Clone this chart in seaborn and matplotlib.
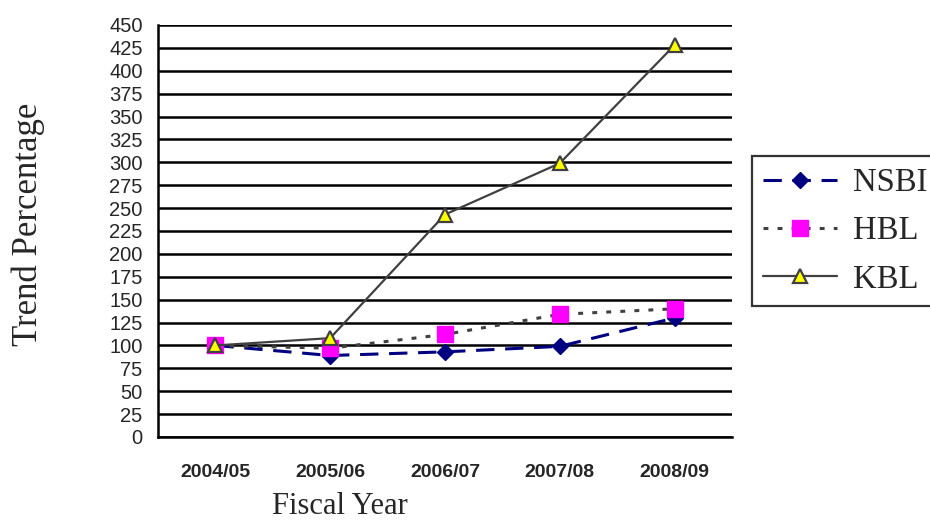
import matplotlib
matplotlib.use("Agg")
import matplotlib.pyplot as plt
import seaborn as sns
import pandas as pd
from matplotlib.ticker import FixedLocator, NullFormatter

years = ["2004/05", "2005/06", "2006/07", "2007/08", "2008/09"]
nsbi = [100, 89, 93, 99, 130]
hbl = [100, 97, 112, 134, 140]
kbl = [100, 108, 243, 299, 428]
series_names = ["NSBI", "HBL", "KBL"]

rows = []
for name, vals in zip(series_names, [nsbi, hbl, kbl]):
    for i, (y, v) in enumerate(zip(years, vals)):
        rows.append({"Year": y, "x": i, "Value": v, "Bank": name})
df = pd.DataFrame(rows)

sns.set_style("white")
fig = plt.figure(figsize=(9.3, 5.22), dpi=100)
ax = fig.add_axes([158/930, 85/522, (732-158)/930, (437-25)/522])

styles = {
    "NSBI": dict(color="#000080", linestyle=(0, (6, 3.5)), marker="D", markersize=8,
                 markerfacecolor="#000080", markeredgecolor="#000080", lw=2.2),
    "HBL": dict(color="#404040", linestyle=(0, (1.6, 3)), marker="s", markersize=11,
                markerfacecolor="#FF00FF", markeredgecolor="#FF00FF", lw=2.2),
    "KBL": dict(color="#404040", linestyle="-", marker="^", markersize=10,
                markerfacecolor="#FFFF00", markeredgecolor="#404040", markeredgewidth=1.6, lw=1.6),
}
for name in series_names:
    sub = df[df["Bank"] == name]
    st = styles[name]
    sns.lineplot(data=sub, x="x", y="Value", ax=ax, label=name, sort=False,
                 color=st["color"], linestyle=st["linestyle"], lw=st["lw"],
                 marker=st["marker"], markersize=st["markersize"],
                 markerfacecolor=st["markerfacecolor"], markeredgecolor=st["markeredgecolor"],
                 markeredgewidth=st.get("markeredgewidth", 1), zorder=3)

ax.set_xlim(-0.5, 4.5)
ax.set_ylim(0, 450)
ax.set_yticks(range(0, 451, 25))
ax.yaxis.grid(True, color="black", lw=1.8)
ax.set_axisbelow(True)
ax.xaxis.set_major_locator(FixedLocator([i - 0.5 for i in range(6)]))
ax.xaxis.set_major_formatter(NullFormatter())
ax.xaxis.set_minor_locator(FixedLocator(list(range(5))))
ax.set_xticklabels(years, minor=True)
ax.tick_params(axis="x", which="major", direction="out", length=6, width=1.5, color="black")
ax.tick_params(axis="x", which="minor", length=0, pad=19.5)
ax.tick_params(axis="y", direction="out", length=5, width=1.5, color="black", pad=6)
for lab in ax.get_xticklabels(minor=True):
    lab.set_fontfamily("Liberation Sans")
    lab.set_fontweight("bold")
    lab.set_fontsize(14)
for lab in ax.get_yticklabels():
    lab.set_fontfamily("Liberation Sans")
    lab.set_fontsize(14.5)
for s in ["top", "right"]:
    ax.spines[s].set_visible(False)
for s in ["left", "bottom"]:
    ax.spines[s].set_color("black")
    ax.spines[s].set_linewidth(1.8)
ax.set_xlabel("")
ax.set_ylabel("")

fig.text(28/930, 1 - 224/522, "Trend Percentage", rotation=90, ha="center", va="center",
         fontfamily="Liberation Serif", fontsize=25)
fig.text(340/930, 1 - 507/522, "Fiscal Year", ha="center", va="center",
         fontfamily="Liberation Serif", fontsize=22)

top = 1 - 156/522
leg = ax.legend(loc="upper left", bbox_to_anchor=(752/930, 0, 200/930, top), mode="expand",
                bbox_transform=fig.transFigure, frameon=True, fancybox=False,
                prop={"family": "Liberation Serif", "size": 23.5}, handlelength=2.25,
                borderpad=0.35, labelspacing=0.55, handletextpad=0.5, borderaxespad=0)
leg.get_frame().set_edgecolor("black")
leg.get_frame().set_linewidth(1.6)

fig.savefig("out.png", dpi=100)
